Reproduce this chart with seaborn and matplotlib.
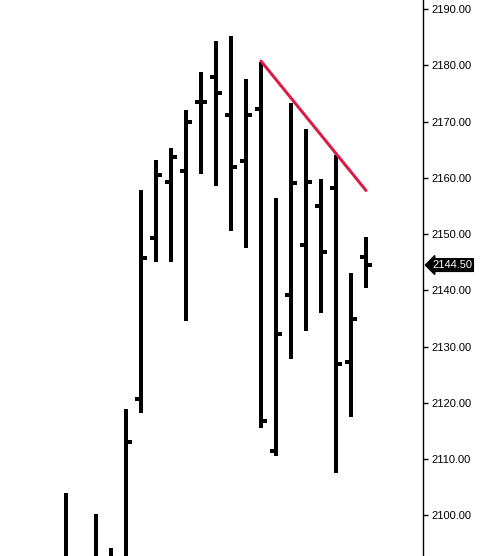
"""OHLC bar chart with a falling trend line, axis on the right."""

import matplotlib

matplotlib.use("Agg")
import matplotlib.pyplot as plt
import numpy as np
import pandas as pd
import seaborn as sns

RED = "#DC1A46"

opens = [2090.0, 2088.0, 2087.0, 2086.0, 2091.0, 2120.75, 2149.25, 2159.25, 2161.25, 2173.5, 2178.0,
         2171.25, 2163.0, 2172.25, 2111.5, 2139.25, 2148.0, 2155.0, 2158.25, 2127.25, 2146.0]
highs = [2104.0, 2092.0, 2100.25, 2094.25, 2119.0, 2157.75, 2163.25, 2165.25, 2172.0, 2178.75, 2184.25,
         2185.25, 2177.5, 2180.5, 2156.5, 2173.25, 2168.75, 2159.75, 2164.0, 2143.0, 2149.5]
lows = [2084.0, 2080.0, 2085.0, 2082.0, 2088.0, 2118.25, 2145.0, 2145.0, 2134.5, 2160.75, 2158.5,
        2150.5, 2147.5, 2115.5, 2110.5, 2127.75, 2132.75, 2136.0, 2107.5, 2117.5, 2140.5]
closes = [2088.0, 2085.0, 2090.0, 2092.0, 2113.0, 2145.75, 2160.5, 2163.75, 2170.0, 2173.5, 2175.0,
          2162.0, 2171.25, 2116.75, 2132.25, 2159.0, 2159.25, 2146.75, 2127.0, 2135.0, 2144.5]

trend_x = [13, 20]
trend_y = [2180.75, 2157.75]

last_price = 2144.50
y_ticks = [2100, 2110, 2120, 2130, 2140, 2150, 2160, 2170, 2180, 2190]

bars = pd.DataFrame({"open": opens, "high": highs, "low": lows, "close": closes})
bars["i"] = np.arange(len(bars))
trend = pd.DataFrame({"x": trend_x, "y": trend_y})

sns.set_style("white")
plt.rcParams["font.family"] = ["Liberation Sans", "DejaVu Sans"]

fig = plt.figure(figsize=(4.82, 5.56), dpi=100)
ax = fig.add_axes([0, 0, 423 / 482, 1])

px = 100 / 72  # pixels per point
ax.vlines(bars["i"], bars["low"], bars["high"], color="black", linewidth=4 / px, capstyle="butt")
ax.hlines(bars["open"], bars["i"] - 0.4, bars["i"], color="black", linewidth=4 / px, capstyle="butt")
ax.hlines(bars["close"], bars["i"], bars["i"] + 0.4, color="black", linewidth=4 / px, capstyle="butt")

sns.lineplot(data=trend, x="x", y="y", color=RED, linewidth=3 / px, ax=ax)

ax.set_xlim(-4.4, 23.8)
ax.set_ylim(2092.8, 2191.6)
ax.set(xlabel="", ylabel="")
ax.set_xticks([])
ax.set_yticks(y_ticks)
ax.set_yticklabels([f"{t:.2f}" for t in y_ticks])
ax.yaxis.tick_right()
ax.tick_params(axis="y", which="both", right=True, left=False, length=3.6, width=1,
               pad=2.5, labelsize=8, colors="black")
for side in ["left", "top", "bottom"]:
    ax.spines[side].set_visible(False)
ax.spines["right"].set_color("black")
ax.spines["right"].set_linewidth(1)

ax.annotate(f"{last_price:.2f}", xy=(1, last_price), xycoords=("axes fraction", "data"),
            xytext=(6.5, 0), textcoords="offset points", va="center", ha="left",
            color="white", fontsize=8,
            bbox=dict(boxstyle="larrow,pad=0.12", fc="black", ec="black"),
            annotation_clip=False)

fig.savefig("out.png", dpi=100, facecolor="white")
